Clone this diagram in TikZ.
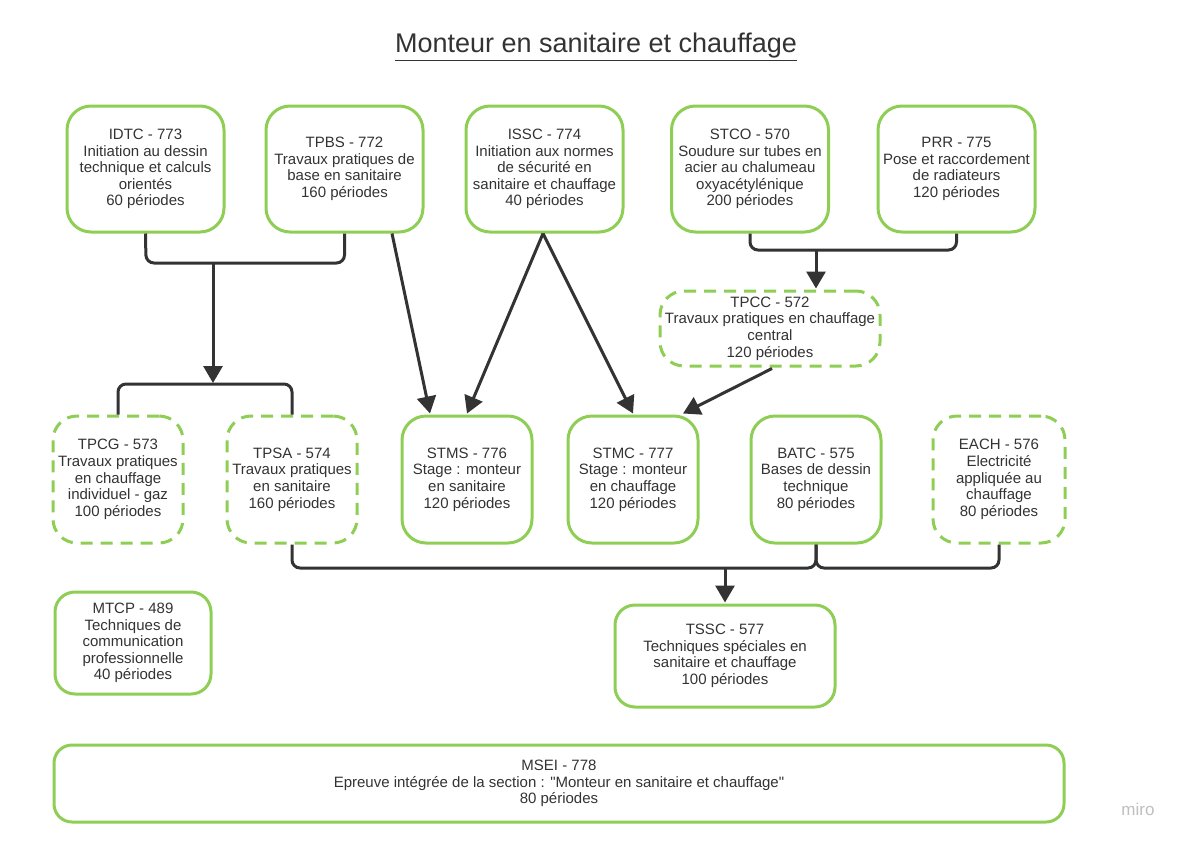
\documentclass[tikz,border=0pt]{standalone}
\usepackage{fontspec}
\setmainfont{Liberation Sans}
\usetikzlibrary{arrows.meta,calc}
\definecolor{mgreen}{RGB}{143,206,84}
\definecolor{ink}{RGB}{51,51,51}
\tikzset{
  box/.style={draw=mgreen, line width=3pt, rounded corners=24pt, fill=white,
    align=center, text=ink, inner sep=0pt, font=\fontsize{15}{16.6}\selectfont},
  dbox/.style={box, dash pattern=on 12pt off 8pt},
  conn/.style={draw=ink, line width=3pt, rounded corners=8pt},
  arr/.style={draw=ink, line width=3pt, -{Triangle[length=17pt,width=19pt]}},
}
\begin{document}
\begin{tikzpicture}[x=1pt,y=-1pt]
\useasboundingbox[fill=white] (0,0) rectangle (1184,844);
\node[text=ink, font=\fontsize{27}{30}\selectfont] (title) at (596,47) {\underline{Monteur en sanitaire et chauffage}};

% top row
\node[box, minimum width=157pt, minimum height=126pt] (idtc) at (145.5,169) {IDTC - 773\\Initiation au dessin\\technique et calculs\\orientés\\60 périodes};
\node[box, minimum width=157pt, minimum height=126pt] (tpbs) at (344.5,169) {TPBS - 772\\Travaux pratiques de\\base en sanitaire\\160 périodes};
\node[box, minimum width=157pt, minimum height=126pt] (issc) at (544.5,169) {ISSC - 774\\Initiation aux normes\\de sécurité en\\sanitaire et chauffage\\40 périodes};
\node[box, minimum width=157pt, minimum height=126pt] (stco) at (750,169) {STCO - 570\\Soudure sur tubes en\\acier au chalumeau\\oxyacétylénique\\200 périodes};
\node[box, minimum width=157pt, minimum height=126pt] (prr) at (956.5,169) {PRR - 775\\Pose et raccordement\\de radiateurs\\120 périodes};

\node[dbox, minimum width=220pt, minimum height=75pt] (tpcc) at (770,328.5) {TPCC - 572\\Travaux pratiques en chauffage\\central\\120 périodes};

% middle row
\node[dbox, minimum width=130pt, minimum height=127pt] (tpcg) at (118,479.5) {TPCG - 573\\Travaux pratiques\\en chauffage\\individuel - gaz\\100 périodes};
\node[dbox, minimum width=130pt, minimum height=127pt] (tpsa) at (292,479.5) {TPSA - 574\\Travaux pratiques\\en sanitaire\\160 périodes};
\node[box, minimum width=130pt, minimum height=127pt] (stms) at (467,479.5) {STMS - 776\\Stage : monteur\\en sanitaire\\120 périodes};
\node[box, minimum width=130pt, minimum height=127pt] (stmc) at (633,479.5) {STMC - 777\\Stage : monteur\\en chauffage\\120 périodes};
\node[box, minimum width=130pt, minimum height=127pt] (batc) at (816,479.5) {BATC - 575\\Bases de dessin\\technique\\80 périodes};
\node[dbox, minimum width=132pt, minimum height=127pt] (each) at (999,479.5) {EACH - 576\\Electricité\\appliquée au\\chauffage\\80 périodes};

% lower
\node[box, rounded corners=20pt, minimum width=156pt, minimum height=102pt] (mtcp) at (133,643) {MTCP - 489\\Techniques de\\communication\\professionnelle\\40 périodes};
\node[box, rounded corners=20pt, minimum width=220pt, minimum height=102pt] (tssc) at (725,656) {TSSC - 577\\Techniques spéciales en\\sanitaire et chauffage\\100 périodes};
\node[box, rounded corners=18pt, minimum width=1010pt, minimum height=77pt] (msei) at (559,783.5) {MSEI - 778\\Epreuve intégrée de la section : \textquotedbl Monteur en sanitaire et chauffage\textquotedbl\\80 périodes};

\node[text=black!25, font=\fontsize{17}{17}\selectfont] (miro) at (1138,809) {miro};

% junction coordinates
\coordinate (j1) at (213,263);
\coordinate (j2) at (213,384);
\coordinate (j3) at (725,568);
\coordinate (j4) at (816,250);

% connectors
\draw[conn] (idtc.south) -- (146,263) -- (344.5,263) -- (tpbs.south);
\draw[arr] (j1) -- ([yshift=1pt]j2);
\draw[conn] (tpcg.north) -- (118,384) -- (292,384) -- (tpsa.north);

\draw[arr] ([xshift=47.5pt]tpbs.south) -- ([xshift=-37pt,yshift=1pt]stms.north);
\draw[arr] ([xshift=-1.5pt]issc.south) -- ([yshift=1pt]stms.north);
\draw[arr] ([xshift=-1.5pt]issc.south) -- ([yshift=1pt]stmc.north);

\draw[conn] (stco.south) -- (750,250) -- (956.5,250) -- (prr.south);
\draw[arr] (j4) -- ([xshift=46pt,yshift=1pt]tpcc.north);

\draw[arr] ([xshift=2pt,yshift=-1pt]tpcc.south) -- ([xshift=50pt,yshift=1pt]stmc.north);

\draw[conn] (tpsa.south) -- (292,568) -- (816,568) -- (batc.south);
\draw[conn] (batc.south) -- (816,568) -- (999,568) -- (each.south);
\draw[arr] (j3) -- ([yshift=1pt]tssc.north);
\end{tikzpicture}
\end{document}
